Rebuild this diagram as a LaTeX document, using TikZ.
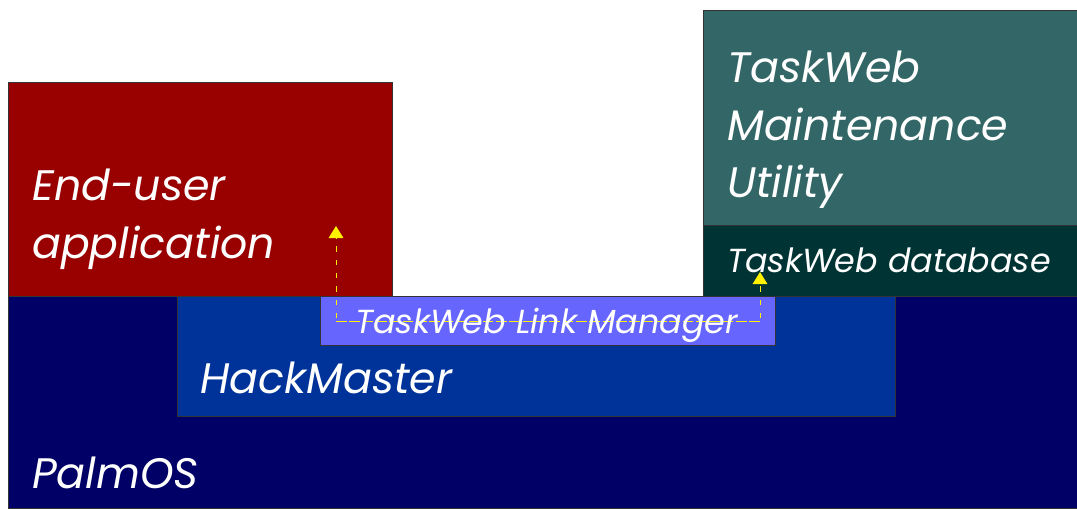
\documentclass[tikz,border=0pt]{standalone}
\usepackage{fontspec}
\setmainfont{Poppins}
\usetikzlibrary{arrows.meta}
\definecolor{appred}{HTML}{990000}
\definecolor{palmblue}{HTML}{000066}
\definecolor{hackblue}{HTML}{003399}
\definecolor{linkblue}{HTML}{6666FF}
\definecolor{utilteal}{HTML}{336666}
\definecolor{dbteal}{HTML}{003333}
\tikzset{
  layer/.style={draw=black!80, line width=0.75pt},
  label big/.style={anchor=base west, text=white, font=\fontsize{32}{32}\selectfont\itshape, inner sep=0pt},
  label small/.style={anchor=base west, text=white, font=\fontsize{25}{25}\selectfont\itshape, inner sep=0pt},
  hook/.style={yellow, dashed, dash pattern=on 4pt off 6pt, line width=0.6pt, -{Triangle[length=9pt,width=11pt]}}
}
\begin{document}
\begin{tikzpicture}[x=0.75pt, y=-0.75pt]
  \useasboundingbox (0,0) rectangle (1077,508);
  % layers, bottom up
  \draw [layer, fill=palmblue] (8,296) rectangle (1077,508);
  \draw [layer, fill=appred] (8,82) rectangle (392,296);
  \draw [layer, fill=utilteal] (703,10) rectangle (1077,225);
  \draw [layer, fill=dbteal] (703,225) rectangle (1077,296);
  \draw [layer, fill=hackblue] (177,296) rectangle (895,416);
  \draw [layer, fill=linkblue] (320,296) rectangle (775,345);
  % hooks from the link manager
  \coordinate (hookL) at (336,321);
  \coordinate (hookR) at (760,321);
  \coordinate (append) at (336,226);
  \coordinate (dbend) at (760,272);
  \draw [hook] (hookR) -- (hookL) -- (append);
  \draw [hook] (hookL) -- (hookR) -- (dbend);
  % texts
  \node [label big] (app1) at (32,200) {End-user};
  \node [label big] (app2) at (32,258) {application};
  \node [label big] (util1) at (727,82) {TaskWeb};
  \node [label big] (util2) at (727,140) {Maintenance};
  \node [label big] (util3) at (727,197) {Utility};
  \node [label small] (db) at (727,272) {TaskWeb database};
  \node [label small] (link) at (355,333) {TaskWeb Link Manager};
  \node [label big] (hack) at (200,393) {HackMaster};
  \node [label big] (palm) at (32,488) {PalmOS};
\end{tikzpicture}
\end{document}
